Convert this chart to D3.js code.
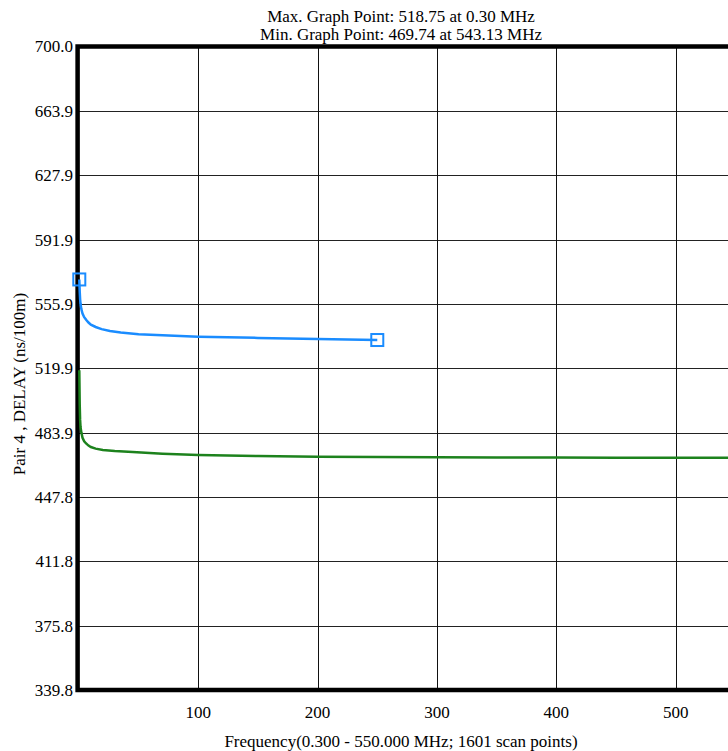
<!DOCTYPE html>
<html>
<head>
<meta charset="utf-8">
<script src="https://cdn.jsdelivr.net/npm/d3@7"></script>
<style>
html,body{margin:0;padding:0;background:#fff;}
svg{display:block;}
text{font-family:"Liberation Serif","Times New Roman",serif;fill:#000;}
</style>
</head>
<body>
<svg id="chart" width="728" height="751"></svg>
<script>
// ---- data ----
const titleLines = ["Max. Graph Point: 518.75 at 0.30 MHz", "Min. Graph Point: 469.74 at 543.13 MHz"];
const xLabel = "Frequency(0.300 - 550.000 MHz; 1601 scan points)";
const yLabel = "Pair 4 , DELAY (ns/100m)";
const yTicks = [339.8, 375.8, 411.8, 447.8, 483.9, 519.9, 555.9, 591.9, 627.9, 663.9, 700.0];
const xTicks = [100, 200, 300, 400, 500];

const blueFreq = [0.3, 0.64, 0.99, 1.33, 2.0, 3.0, 4.4, 6, 8, 10, 14, 19, 26, 35, 50, 75, 100, 150, 200, 250];
const blueVal  = [569.6, 563, 558.5, 556, 553, 550.5, 548.5, 547, 545.5, 544.3, 543, 541.8, 540.8, 539.9, 539.0, 538.2, 537.6, 536.9, 536.3, 535.7];

const greenFreq = [0.3, 0.64, 0.99, 1.33, 2.0, 3.0, 4.4, 6, 8, 10, 14, 20, 30, 45, 70, 100, 150, 200, 250, 300, 350, 400, 450, 500, 543.13, 550];
const greenVal  = [518.75, 500, 491, 487, 484, 481, 479, 477.8, 476.6, 475.8, 474.9, 474.2, 473.6, 473.0, 472.1, 471.4, 470.8, 470.4, 470.2, 470.05, 469.95, 469.88, 469.82, 469.77, 469.74, 469.75];

// ---- layout ----
const svg = d3.select("#chart");
const FONT = "Liberation Serif, Times New Roman, serif";
const pL = 78.1, pR = 735.3, pT = 46.5, pB = 690;
const borderX = 77.6;
const x = d3.scaleLinear().domain([0.3, 550]).range([pL + 1.2, pR]);
const y = d3.scaleLinear().domain([339.8, 700.0]).range([pB, pT]);

svg.append("defs").append("clipPath").attr("id", "plotclip")
  .append("rect").attr("x", pL - 4).attr("y", pT).attr("width", pR - pL + 4).attr("height", pB - pT);

// gridlines
const grid = svg.append("g");
grid.selectAll("line.h").data(yTicks.slice(1, -1)).enter().append("line")
  .attr("x1", pL).attr("x2", pR)
  .attr("y1", d => Math.round(y(d)) + 0.5).attr("y2", d => Math.round(y(d)) + 0.5)
  .attr("stroke", "#222").attr("stroke-width", 1);
grid.selectAll("line.v").data(xTicks).enter().append("line")
  .attr("y1", pT).attr("y2", pB)
  .attr("x1", d => Math.round(x(d)) + 0.5).attr("x2", d => Math.round(x(d)) + 0.5)
  .attr("stroke", "#111").attr("stroke-width", 1);

// y tick labels
svg.append("g").selectAll("text").data(yTicks).enter().append("text")
  .attr("x", 73).attr("y", d => y(d)).attr("dy", "0.35em")
  .attr("text-anchor", "end").attr("font-size", 17).attr("font-family", FONT)
  .text(d => d.toFixed(1));

// x tick labels
svg.append("g").selectAll("text").data(xTicks).enter().append("text")
  .attr("x", d => x(d)).attr("y", 718)
  .attr("text-anchor", "middle").attr("font-size", 17).attr("font-family", FONT)
  .text(d => d);

// border
svg.append("path")
  .attr("d", `M${pR + 10},${pT} H${borderX} V${pB} H${pR + 10}`)
  .attr("fill", "none").attr("stroke", "#000").attr("stroke-width", 4.5);

// lines (drawn over the border, as in the reference)
const line = d3.line().x(d => x(d[0])).y(d => y(d[1]));
const plot = svg.append("g").attr("clip-path", "url(#plotclip)");
plot.append("path").datum(greenFreq.map((f, i) => [f, greenVal[i]]))
  .attr("d", line).attr("fill", "none").attr("stroke", "#1d821d").attr("stroke-width", 2.5);
plot.append("path").datum(blueFreq.map((f, i) => [f, blueVal[i]]))
  .attr("d", line).attr("fill", "none").attr("stroke", "#1a8cff").attr("stroke-width", 2.5);

// markers
const markers = [[blueFreq[0], blueVal[0]], [blueFreq[blueFreq.length - 1], blueVal[blueVal.length - 1]]];
svg.append("g").selectAll("rect").data(markers).enter().append("rect")
  .attr("x", d => x(d[0]) - 6).attr("y", d => y(d[1]) - 6)
  .attr("width", 12).attr("height", 12)
  .attr("fill", "none").attr("stroke", "#1a8cff").attr("stroke-width", 2);

// titles
svg.append("g").selectAll("text").data(titleLines).enter().append("text")
  .attr("x", 401).attr("y", (d, i) => 22 + i * 18)
  .attr("text-anchor", "middle").attr("font-size", 17).attr("font-family", FONT)
  .text(d => d);

// axis titles
svg.append("text").attr("x", 401).attr("y", 747)
  .attr("text-anchor", "middle").attr("font-size", 17).attr("font-family", FONT).text(xLabel);
svg.append("text").attr("transform", "translate(25,384) rotate(-90)")
  .attr("text-anchor", "middle").attr("font-size", 17).attr("font-family", FONT).text(yLabel);
</script>
</body>
</html>
